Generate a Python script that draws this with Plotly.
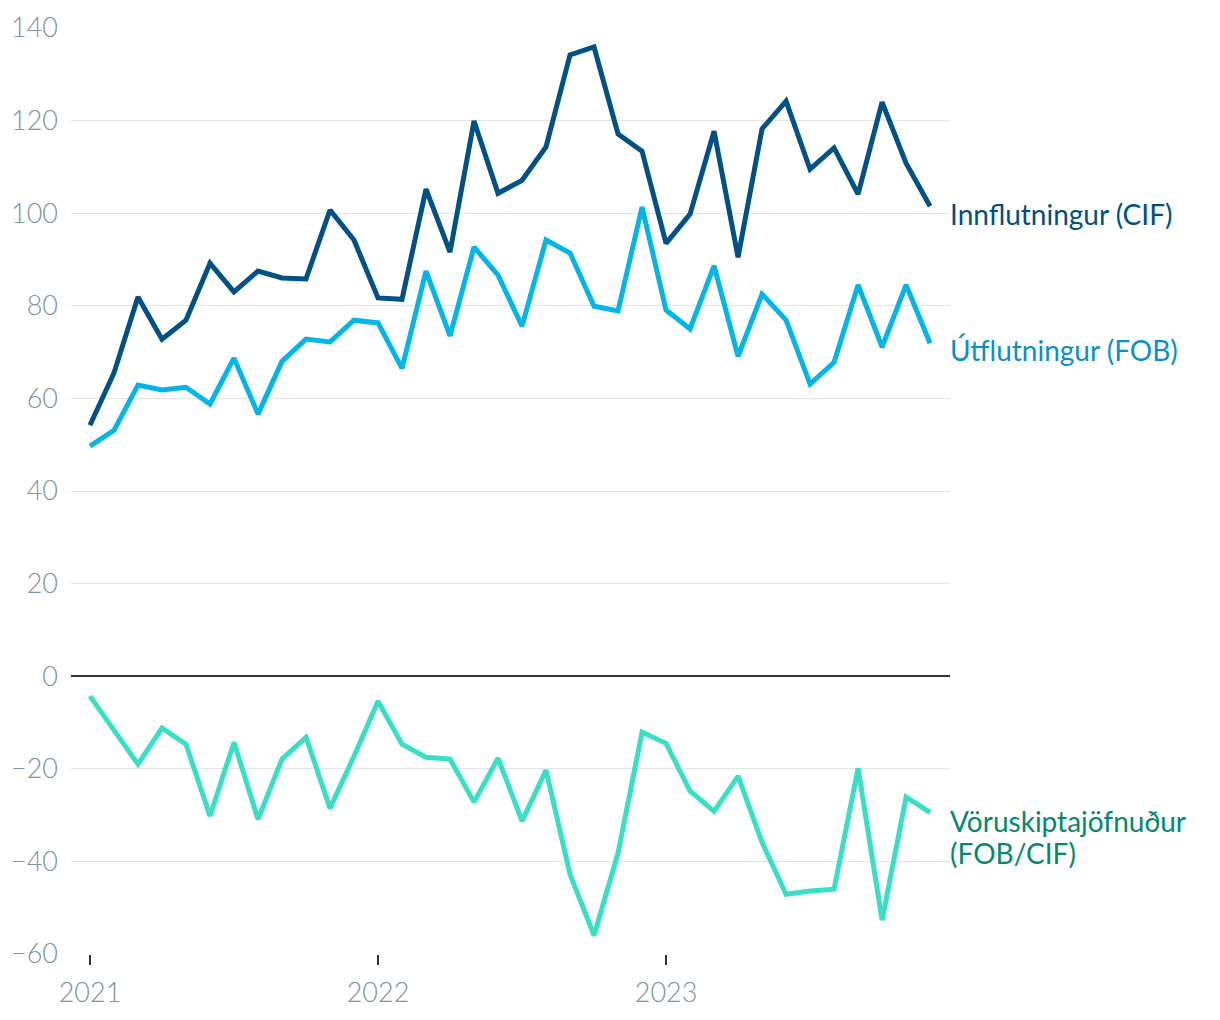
import plotly.graph_objects as go

# monthly values, Jan 2021 - Dec 2023 (ma. kr.)
months = list(range(36))
year_ticks = [0, 12, 24]
year_labels = ["2021", "2022", "2023"]

innflutningur = [54.2, 65.5, 81.9, 72.8, 76.9, 89.2, 83.0, 87.5, 86.0, 85.8, 100.7, 94.2,
                 81.7, 81.4, 105.2, 91.6, 119.9, 104.3, 107.1, 114.3, 134.2, 135.9, 117.1, 113.4,
                 93.5, 99.8, 117.7, 90.5, 118.2, 124.2, 109.5, 114.1, 104.1, 124.0, 110.8, 101.5]

utflutningur = [49.7, 53.1, 62.9, 61.8, 62.4, 58.8, 68.7, 56.6, 68.0, 72.8, 72.2, 76.9,
                76.3, 66.5, 87.5, 73.5, 92.7, 86.6, 75.6, 94.2, 91.4, 79.9, 78.9, 101.3,
                79.1, 75.0, 88.6, 69.1, 82.5, 76.9, 63.1, 67.8, 84.5, 71.1, 84.5, 71.9]

voruskiptajofnudur = [-4.3, -11.7, -19.0, -11.2, -14.7, -30.2, -14.3, -30.9, -17.9, -13.2, -28.5, -17.3,
                      -5.4, -14.7, -17.5, -17.9, -27.2, -17.7, -31.3, -20.3, -42.8, -56.0, -38.2, -12.1,
                      -14.5, -24.8, -29.2, -21.6, -35.9, -47.1, -46.4, -46.0, -19.9, -52.7, -26.1, -29.4]

# name lines, values, line colour, label colour, offset of first label line below last point (px)
series = [
    (["Innflutningur (CIF)"], innflutningur, "#005185", "#00507f", 8),
    (["Útflutningur (FOB)"], utflutningur, "#00b5ea", "#0a8fc6", 7),
    (["Vöruskiptajöfnuður", "(FOB/CIF)"], voruskiptajofnudur, "#37e0c4", "#00896d", 9),
]

fig = go.Figure()
for lines, vals, col, lab_col, shift in series:
    fig.add_trace(go.Scatter(
        x=months, y=vals, mode="lines", name=" ".join(lines),
        line=dict(color=col, width=5),
        hoverinfo="skip",
    ))
    for k, txt in enumerate(lines):
        fig.add_annotation(
            xref="paper", x=1, xanchor="left", xshift=-2,
            yref="y", y=vals[-1], yanchor="middle", yshift=-(shift + 32 * k),
            text=txt, showarrow=False, align="left",
            font=dict(family="Lato", size=28, color=lab_col),
        )

tick_font = dict(family="Lato", size=27, color="#7f949d", weight=300)

# the page puts the figure 8px in from the top-left corner
fig.update_layout(
    width=1212, height=1012,
    margin=dict(l=63, r=270, t=20, b=66),
    paper_bgcolor="white", plot_bgcolor="white",
    showlegend=False,
    xaxis=dict(
        range=[-0.79, 35.83], automargin=False,
        tickvals=year_ticks, ticktext=year_labels,
        ticks="outside", ticklen=10, tickwidth=2, tickcolor="#333333",
        showgrid=False, zeroline=False, showline=False,
        tickfont=tick_font, ticklabelstandoff=5,
    ),
    yaxis=dict(
        range=[-60, 140], automargin=False,
        tickvals=[-60, -40, -20, 0, 20, 40, 60, 80, 100, 120, 140],
        showgrid=True, gridcolor="#e4e4e4", gridwidth=1,
        zeroline=True, zerolinecolor="#333333", zerolinewidth=2,
        ticks="", showline=False,
        tickfont=tick_font, ticklabelstandoff=12,
    ),
)

fig.write_html("out.html")
